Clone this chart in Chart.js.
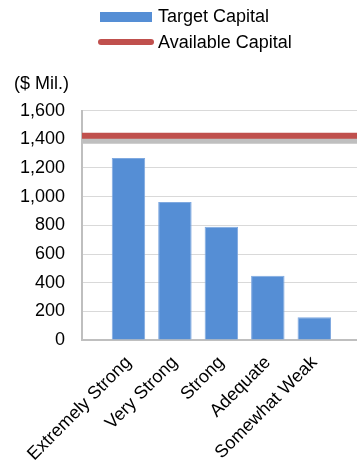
<!DOCTYPE html>
<html>
<head>
<meta charset="utf-8">
<script src="https://cdn.jsdelivr.net/npm/chart.js@4"></script>
<style>
  html, body { margin: 0; padding: 0; background: #fff; overflow: hidden; }
  #wrap { position: relative; width: 357px; height: 464px; overflow: hidden; }
  #chart { position: absolute; left: 0; top: 0; }
  #legend { position: absolute; left: 98px; top: 4px; font: 18px "Liberation Sans", Arial, sans-serif; color: #000; }
  .item { display: flex; align-items: center; height: 25.5px; white-space: nowrap; }
  .swatch { width: 56px; margin-right: 4px; display: flex; justify-content: center; }
</style>
</head>
<body>
<div id="wrap">
  <canvas id="chart" width="380" height="469"></canvas>
  <div id="legend"></div>
</div>
<script>
const categories = ['Extremely Strong', 'Very Strong', 'Strong', 'Adequate', 'Somewhat Weak'];
const targetCapital = [1270, 962, 791, 449, 159];
const availableCapital = 1425;
const yTicks = [0, 200, 400, 600, 800, 1000, 1200, 1400, 1600];

const FONT = '"Liberation Sans", Arial, sans-serif';
const BLUE = '#558ED5';
const RED = '#C0504D';

// empty slot on each side so the bars sit like in the original
const labels = [''].concat(categories, ['']);

const lineShadow = {
  id: 'lineShadow',
  beforeDatasetDraw(chart, args) {
    if (args.index !== 1) return;
    const ctx = chart.ctx;
    ctx.save();
    ctx.shadowColor = '#bfbfbf';
    ctx.shadowOffsetY = 5;
    ctx.shadowBlur = 0;
  },
  afterDatasetDraw(chart, args) {
    if (args.index === 1) chart.ctx.restore();
  }
};

const ctx = document.getElementById('chart').getContext('2d');
const chart = new Chart(ctx, {
  data: {
    labels: labels,
    datasets: [{
      type: 'bar',
      label: 'Target Capital',
      data: [null].concat(targetCapital, [null]),
      backgroundColor: BLUE,
      borderColor: '#7FA9E0',
      borderWidth: 1,
      barPercentage: 0.72,
      categoryPercentage: 1,
      order: 2
    }, {
      type: 'line',
      label: 'Available Capital',
      data: labels.map(() => availableCapital),
      borderColor: RED,
      borderWidth: 6,
      pointRadius: 0,
      order: 1
    }]
  },
  options: {
    responsive: false,
    animation: false,
    layout: { padding: { left: 14, top: 70, bottom: 0, right: 0 } },
    plugins: {
      legend: { display: false },
      tooltip: { enabled: false },
      title: {
        display: true,
        text: '($ Mil.)',
        align: 'start',
        color: '#000',
        font: { family: FONT, size: 18, weight: 'normal' },
        padding: { top: 3, bottom: 16 }
      }
    },
    scales: {
      x: {
        offset: false,
        grid: { display: false },
        border: { color: '#bfbfbf', width: 2 },
        ticks: {
          autoSkip: false,
          minRotation: 45,
          maxRotation: 45,
          color: '#000',
          padding: 4,
          font: { family: FONT, size: 18 }
        }
      },
      y: {
        min: 0,
        max: 1600,
        afterFit(scale) { scale.width = 68; },
        afterBuildTicks(scale) { scale.ticks = yTicks.map(v => ({ value: v })); },
        grid: { color: '#d9d9d9', lineWidth: 1, drawTicks: false },
        border: { color: '#bfbfbf', width: 2 },
        ticks: {
          color: '#000',
          padding: 17,
          font: { family: FONT, size: 18 },
          callback: v => v.toLocaleString('en-US')
        }
      }
    }
  },
  plugins: [lineShadow]
});

// legend built from the datasets
const legend = document.getElementById('legend');
chart.data.datasets.forEach(ds => {
  const item = document.createElement('div');
  item.className = 'item';
  const sw = document.createElement('span');
  sw.className = 'swatch';
  const mark = document.createElement('span');
  if (ds.type === 'bar') {
    mark.style.cssText = 'display:block;width:52px;height:10px;background:' + ds.backgroundColor;
  } else {
    mark.style.cssText = 'display:block;width:56px;height:6px;border-radius:3px;background:' + ds.borderColor;
  }
  sw.appendChild(mark);
  const txt = document.createElement('span');
  txt.textContent = ds.label;
  item.appendChild(sw);
  item.appendChild(txt);
  legend.appendChild(item);
});
</script>
</body>
</html>
